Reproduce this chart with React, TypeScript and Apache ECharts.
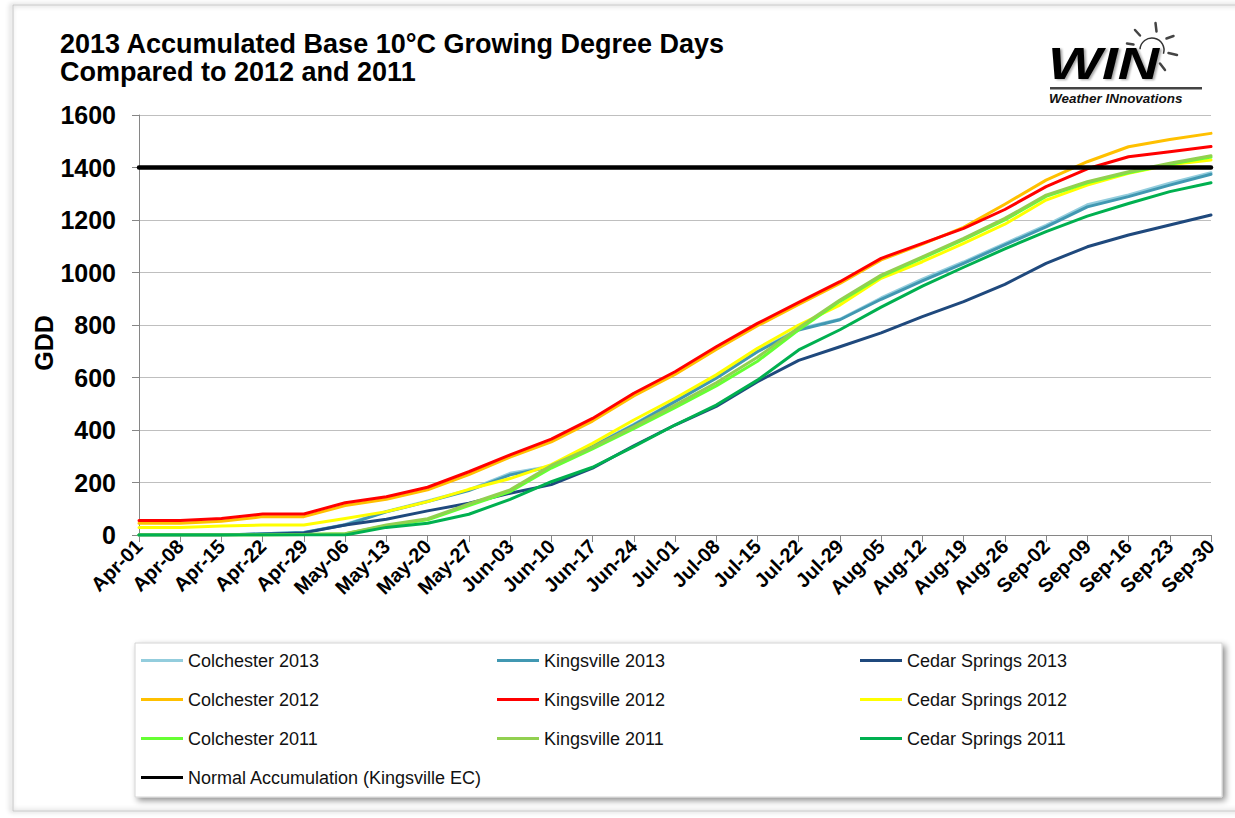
import React, { useEffect, useRef } from "react";
import * as echarts from "echarts";

const categories = [
  "Apr-01", "Apr-08", "Apr-15", "Apr-22", "Apr-29", "May-06", "May-13", "May-20", "May-27",
  "Jun-03", "Jun-10", "Jun-17", "Jun-24", "Jul-01", "Jul-08", "Jul-15", "Jul-22", "Jul-29",
  "Aug-05", "Aug-12", "Aug-19", "Aug-26", "Sep-02", "Sep-09", "Sep-16", "Sep-23", "Sep-30",
];

const colchester2013 = [0, 0, 0, 5, 10, 40, 90, 130, 172, 235, 262, 340, 422, 510, 600, 700, 785, 822, 903, 975, 1040, 1110, 1180, 1258, 1295, 1340, 1380];
const kingsville2013 = [0, 0, 0, 5, 10, 38, 88, 127, 169, 229, 260, 337, 419, 508, 597, 698, 781, 820, 898, 968, 1035, 1105, 1174, 1250, 1289, 1333, 1374];
const cedarSprings2013 = [0, 0, 0, 3, 8, 38, 60, 92, 121, 159, 192, 255, 340, 419, 490, 584, 665, 717, 770, 832, 889, 955, 1035, 1098, 1143, 1181, 1219];
const colchester2012 = [45, 45, 52, 70, 70, 112, 136, 172, 230, 297, 355, 434, 530, 612, 707, 797, 878, 958, 1048, 1108, 1172, 1260, 1352, 1422, 1479, 1507, 1530];
const kingsville2012 = [55, 55, 63, 80, 80, 123, 146, 182, 241, 305, 365, 444, 540, 622, 717, 806, 886, 965, 1054, 1111, 1168, 1240, 1327, 1395, 1441, 1460, 1480];
const cedarSprings2012 = [29, 29, 34, 38, 38, 63, 89, 127, 174, 215, 268, 349, 438, 521, 610, 711, 800, 876, 978, 1041, 1111, 1184, 1276, 1333, 1378, 1410, 1429];
const colchester2011 = [0, 0, 0, 0, 2, 5, 35, 58, 112, 165, 255, 328, 405, 485, 568, 662, 782, 890, 985, 1055, 1125, 1200, 1290, 1342, 1380, 1412, 1440];
const kingsville2011 = [0, 0, 0, 0, 2, 5, 38, 62, 118, 172, 265, 335, 413, 495, 580, 677, 790, 895, 990, 1060, 1130, 1206, 1295, 1346, 1384, 1416, 1445];
const cedarSprings2011 = [0, 0, 0, 0, 0, 0, 29, 45, 79, 136, 203, 258, 337, 419, 495, 590, 705, 782, 868, 948, 1020, 1090, 1156, 1215, 1263, 1308, 1342];
const normalAccumulation = [1400, 1400, 1400, 1400, 1400, 1400, 1400, 1400, 1400, 1400, 1400, 1400, 1400, 1400, 1400, 1400, 1400, 1400, 1400, 1400, 1400, 1400, 1400, 1400, 1400, 1400, 1400];

const yTicks = { min: 0, max: 1600, interval: 200 };

const FONT = "'Liberation Sans', Arial, Helvetica, sans-serif";

const seriesList = [
  { name: "Colchester 2013", data: colchester2013, color: "#93CDDD", width: 3 },
  { name: "Kingsville 2013", data: kingsville2013, color: "#4198B2", width: 3 },
  { name: "Cedar Springs 2013", data: cedarSprings2013, color: "#1F497D", width: 3 },
  { name: "Colchester 2012", data: colchester2012, color: "#FFC000", width: 3 },
  { name: "Kingsville 2012", data: kingsville2012, color: "#FF0000", width: 3 },
  { name: "Cedar Springs 2012", data: cedarSprings2012, color: "#FFFF00", width: 3 },
  { name: "Colchester 2011", data: colchester2011, color: "#66FF33", width: 3 },
  { name: "Kingsville 2011", data: kingsville2011, color: "#92D050", width: 3 },
  { name: "Cedar Springs 2011", data: cedarSprings2011, color: "#00B050", width: 3 },
  { name: "Normal Accumulation (Kingsville EC)", data: normalAccumulation, color: "#000000", width: 4.5 },
];

const legendColumns = [
  { left: 141, names: ["Colchester 2013", "Colchester 2012", "Colchester 2011", "Normal Accumulation (Kingsville EC)"] },
  { left: 497, names: ["Kingsville 2013", "Kingsville 2012", "Kingsville 2011"] },
  { left: 860, names: ["Cedar Springs 2013", "Cedar Springs 2012", "Cedar Springs 2011"] },
];

function buildOption() {
  const rays = [
    [1127, 43.5, 1133.5, 44.5],
    [1135, 30, 1140, 35.5],
    [1155.5, 23, 1156.5, 31.5],
    [1166.5, 38.5, 1173.5, 36],
    [1168.5, 53, 1177, 55],
    [1160, 63.5, 1165, 70],
  ];
  return {
    animation: false,
    backgroundColor: "#ffffff",
    textStyle: { fontFamily: FONT },
    title: {
      text: "2013 Accumulated Base 10°C Growing Degree Days\nCompared to 2012 and 2011",
      left: 60,
      top: 30,
      padding: 0,
      textStyle: { fontFamily: FONT, fontSize: 27, fontWeight: "bold", color: "#000", lineHeight: 28 },
    },
    grid: { left: 139, top: 115, width: 1072, height: 420, containLabel: false },
    xAxis: {
      type: "category",
      data: categories,
      boundaryGap: false,
      axisLine: { lineStyle: { color: "#868686", width: 1 } },
      axisTick: { show: true, interval: 0, length: 7, lineStyle: { color: "#868686" } },
      axisLabel: {
        interval: 0,
        rotate: 45,
        margin: 8,
        fontFamily: FONT,
        fontSize: 20,
        fontWeight: "bold",
        color: "#000",
      },
      splitLine: { show: false },
    },
    yAxis: {
      type: "value",
      min: yTicks.min,
      max: yTicks.max,
      interval: yTicks.interval,
      axisLine: { show: true, lineStyle: { color: "#868686", width: 1 } },
      axisTick: { show: true, length: 7, lineStyle: { color: "#868686" } },
      axisLabel: {
        margin: 23,
        fontFamily: FONT,
        fontSize: 25,
        fontWeight: "bold",
        color: "#000",
        formatter: (v: number) => String(v),
      },
      splitLine: { show: true, lineStyle: { color: "#BFBFBF", width: 1 } },
    },
    legend: legendColumns.map((c) => ({
      left: c.left,
      top: 641,
      orient: "vertical",
      padding: 0,
      itemGap: 0,
      itemWidth: 42,
      itemHeight: 3,
      icon: "rect",
      selectedMode: false,
      data: c.names,
      textStyle: { fontFamily: FONT, fontSize: 18, color: "#111", lineHeight: 39 },
    })),
    series: seriesList.map((s, i) => ({
      name: s.name,
      type: "line",
      data: s.data,
      symbol: "none",
      showSymbol: false,
      smooth: false,
      z: 2 + i * 0.01,
      color: s.color,
      lineStyle: { color: s.color, width: s.width, cap: "round", join: "round" },
    })),
    graphic: [
      {
        type: "rect",
        silent: true,
        z: -10,
        shape: { x: 13, y: 5, width: 1260, height: 806 },
        style: {
          fill: "none",
          stroke: "#C4C4C4",
          lineWidth: 1,
          shadowBlur: 5,
          shadowOffsetX: -2,
          shadowOffsetY: 0,
          shadowColor: "rgba(0,0,0,0.45)",
        },
      },
      {
        type: "rect",
        silent: true,
        z: -5,
        shape: { x: 135, y: 643, width: 1087, height: 154 },
        style: {
          fill: "#ffffff",
          stroke: "#D4D4D4",
          lineWidth: 1,
          shadowBlur: 6,
          shadowOffsetX: 3,
          shadowOffsetY: 3,
          shadowColor: "rgba(0,0,0,0.45)",
        },
      },
      {
        type: "text",
        silent: true,
        x: 44,
        y: 343,
        rotation: Math.PI / 2,
        style: {
          text: "GDD",
          fontFamily: FONT,
          fontSize: 25,
          fontWeight: "bold",
          fill: "#000",
          align: "center",
          verticalAlign: "middle",
        },
      },
      {
        type: "arc",
        silent: true,
        shape: { cx: 1152, cy: 50, r: 12, startAngle: Math.PI * 1.02, endAngle: Math.PI * 2.1, clockwise: true },
        style: { stroke: "#333", lineWidth: 1.5, fill: "none" },
      },
      ...rays.map((r) => ({
        type: "line",
        silent: true,
        shape: { x1: r[0], y1: r[1], x2: r[2], y2: r[3] },
        style: { stroke: "#444", lineWidth: 2.5, lineCap: "round" },
      })),
      {
        type: "text",
        silent: true,
        x: 1048,
        y: 86,
        scaleX: 1.3,
        style: {
          text: "WIN",
          fontFamily: FONT,
          fontSize: 44,
          fontWeight: "bold",
          fontStyle: "italic",
          fill: "#000",
          align: "left",
          verticalAlign: "bottom",
          textShadowColor: "rgba(0,0,0,0.35)",
          textShadowBlur: 2,
          textShadowOffsetX: 2,
          textShadowOffsetY: 1,
        },
      },
      {
        type: "rect",
        silent: true,
        shape: { x: 1050, y: 87, width: 152, height: 2.5 },
        style: { fill: "#444" },
      },
      {
        type: "text",
        silent: true,
        x: 1049,
        y: 99,
        scaleX: 1.12,
        style: {
          text: "Weather INnovations",
          fontFamily: FONT,
          fontSize: 12,
          fontWeight: "bold",
          fontStyle: "italic",
          fill: "#111",
          align: "left",
          verticalAlign: "middle",
        },
      },
    ],
  };
}

export default function App() {
  const ref = useRef<HTMLDivElement>(null);
  useEffect(() => {
    document.body.style.margin = "0";
    const chart = echarts.init(ref.current as HTMLDivElement, undefined, { renderer: "svg" });
    chart.setOption(buildOption() as any);
    return () => {
      chart.dispose();
    };
  }, []);
  return <div ref={ref} style={{ width: 1235, height: 818 }} />;
}
